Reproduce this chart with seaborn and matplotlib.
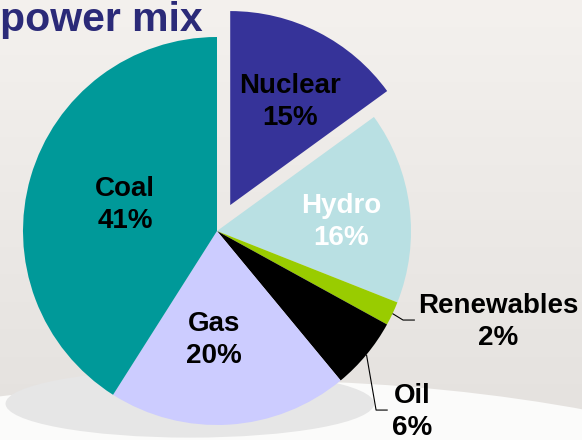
import numpy as np
import matplotlib
matplotlib.use("Agg")
import matplotlib.pyplot as plt
import seaborn as sns
from matplotlib.patches import Ellipse
from matplotlib.colors import LinearSegmentedColormap

# data
sources = ["Nuclear", "Hydro", "Renewables", "Oil", "Gas", "Coal"]
shares = [15, 16, 2, 6, 20, 41]
colors = ["#363399", "#B9E0E3", "#99CC00", "#000000", "#CCCCFF", "#009999"]
explode = [0.15, 0, 0, 0, 0, 0]
title = "power mix"

sns.set_theme(style="white")
plt.rcParams["font.family"] = ["Liberation Sans", "DejaVu Sans"]

bg = "#F1EEEB"
fig = plt.figure(figsize=(5.82, 4.4), dpi=100, facecolor=bg)
ax = fig.add_axes([0, 0, 1, 1])

# 1 data unit = 194 px (pie radius), pie centre at pixel (217, 231)
xlim = (-217 / 194, (582 - 217) / 194)
ylim = (-(440 - 231) / 194, 231 / 194)

# slide background: soft grey gradient, snowy white ground
grad = LinearSegmentedColormap.from_list("bg", ["#E4E1DE", "#F4F1EE"])
ax.imshow(np.linspace(0, 1, 256).reshape(-1, 1), cmap=grad, origin="lower",
          extent=(xlim[0], xlim[1], ylim[0], ylim[1]), aspect="auto", zorder=-3)
ax.add_patch(Ellipse((0.17, -2.42), 8.25, 3.3, color="#FBFBFA", lw=0, zorder=-2))
# soft shadow under the pie
ax.add_patch(Ellipse((-0.14, -0.89), 1.9, 0.35, color="#E6E6E6", zorder=-1, lw=0))

wedges, _ = ax.pie(
    shares,
    colors=colors,
    explode=explode,
    startangle=90,
    counterclock=False,
    radius=1,
    wedgeprops=dict(linewidth=0),
)

# labels inside the slices: (distance in radii, angle nudge in degrees)
inside = {"Nuclear": (0.614, -3.1), "Hydro": (0.641, -3.1),
          "Coal": (0.493, 0.4), "Gas": (0.562, -5.2)}
text_color = {"Hydro": "white"}
# labels outside with leader lines: elbow, line end, text centre
outside = {
    "Renewables": ((0.959, -0.459), (1.02, -0.459), (1.45, -0.47)),
    "Oil": ((0.82, -0.923), (0.88, -0.923), (1.005, -0.935)),
}

font = dict(fontsize=20, fontweight="bold", linespacing=1.3)
for w, name, val in zip(wedges, sources, shares):
    mid = (w.theta1 + w.theta2) / 2
    cx, cy = w.center
    label = f"{name}\n{val}%"
    if name in inside:
        r, nudge = inside[name]
        a = np.deg2rad(mid + nudge)
        ax.text(cx + r * np.cos(a), cy + r * np.sin(a), label,
                ha="center", va="center", color=text_color.get(name, "black"), **font)
    else:
        a = np.deg2rad(mid)
        elbow, end, tpos = outside[name]
        start = (cx + np.cos(a), cy + np.sin(a))
        ax.plot([start[0], elbow[0], end[0]], [start[1], elbow[1], end[1]],
                color="black", lw=0.8, solid_capstyle="butt")
        ax.text(tpos[0], tpos[1], label, ha="center", va="center",
                color="black", **font)

ax.set_xlim(*xlim)
ax.set_ylim(*ylim)
ax.set_aspect("auto")
ax.axis("off")

fig.text(0, 1 - 31 / 440, title, ha="left", va="baseline",
         fontsize=29.5, fontweight="bold", color="#2B2A78")

fig.savefig("out.png", dpi=100, facecolor=bg)
